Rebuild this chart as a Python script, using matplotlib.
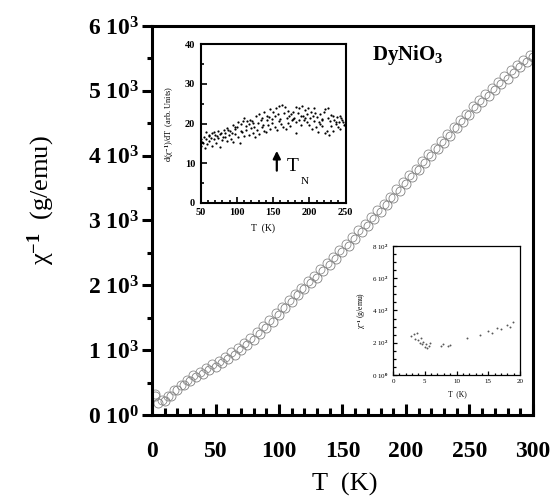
import numpy as np
import matplotlib
matplotlib.use("Agg")
import matplotlib.pyplot as plt
from matplotlib.ticker import MultipleLocator, FixedLocator

plt.rcParams['font.family'] = ['Liberation Serif', 'DejaVu Serif']
plt.rcParams['font.weight'] = 'bold'
plt.rcParams['mathtext.fontset'] = 'custom'
plt.rcParams['mathtext.rm'] = 'Liberation Serif:bold'
plt.rcParams['mathtext.bf'] = 'Liberation Serif:bold'
plt.rcParams['mathtext.sf'] = 'Liberation Serif'
plt.rcParams['mathtext.default'] = 'rm'

# inverse susceptibility, two sweeps
T_a = [2, 5, 10, 15, 20, 25, 30, 35, 40, 45, 50, 55, 60, 65, 70, 75, 80, 85, 90, 95,
       100, 105, 110, 115, 120, 125, 130, 135, 140, 145, 150, 155, 160, 165, 170, 175,
       180, 185, 190, 195, 200, 205, 210, 215, 220, 225, 230, 235, 240, 245, 250, 255,
       260, 265, 270, 275, 280, 285, 290, 295, 300]
chi_a = [290, 190, 215, 290, 380, 460, 520, 580, 640, 690, 740, 800, 860, 930, 1000,
         1080, 1160, 1250, 1340, 1440, 1550, 1650, 1750, 1850, 1940, 2030, 2120, 2220,
         2320, 2410, 2510, 2610, 2720, 2820, 2920, 3020, 3130, 3240, 3350, 3460, 3570,
         3670, 3780, 3880, 3990, 4100, 4200, 4310, 4420, 4520, 4630, 4730, 4830, 4920,
         5010, 5100, 5190, 5280, 5360, 5440, 5520]
T_b = [2.5, 7.5, 12.5, 17.5, 22.5, 27.5, 32.5, 37.5, 42.5, 47.5, 52.5, 57.5, 62.5,
       67.5, 72.5, 77.5, 82.5, 87.5, 92.5, 97.5, 102.5, 107.5, 112.5, 117.5, 122.5,
       127.5, 132.5, 137.5, 142.5, 147.5, 152.5, 157.5, 162.5, 167.5, 172.5, 177.5,
       182.5, 187.5, 192.5, 197.5, 202.5, 207.5, 212.5, 217.5, 222.5, 227.5, 232.5,
       237.5, 242.5, 247.5, 252.5, 257.5, 262.5, 267.5, 272.5, 277.5, 282.5, 287.5,
       292.5, 297.5]
chi_b = [330, 230, 300, 380, 460, 540, 610, 670, 730, 790, 840, 900, 970, 1040, 1110,
         1190, 1280, 1370, 1470, 1570, 1670, 1770, 1870, 1960, 2060, 2150, 2250, 2350,
         2440, 2540, 2640, 2740, 2850, 2950, 3050, 3160, 3260, 3370, 3480, 3590, 3700,
         3800, 3910, 4020, 4120, 4230, 4330, 4440, 4550, 4650, 4760, 4860, 4950, 5050,
         5140, 5230, 5320, 5400, 5480, 5560]

# derivative d(1/chi)/dT
dT_1 = [50, 54, 58, 62, 66, 70, 74, 78, 82, 86, 90, 94, 98, 102, 106, 110, 114, 118,
        122, 126, 130, 134, 138, 142, 146, 150, 154, 158, 162, 166, 170, 174, 178, 182,
        186, 190, 194, 198, 202, 206, 210, 214, 218, 222, 226, 230, 234, 238, 242, 246, 250]
dv_1 = [16.0, 16.5, 17.8, 16.9, 17.5, 17.2, 18.0, 17.6, 18.4, 18.9, 18.2, 19.5, 19.0,
        20.3, 19.8, 21.5, 20.6, 21.0, 20.2, 21.8, 22.4, 21.3, 22.9, 22.0, 23.6, 22.8,
        23.9, 24.3, 24.6, 24.1, 23.2, 22.5, 22.9, 24.2, 23.8, 24.4, 23.5, 24.0, 22.8,
        23.9, 21.6, 22.4, 20.8, 23.7, 24.0, 22.2, 20.9, 21.6, 21.8, 20.4, 22.0]
dT_2 = [50, 53, 56, 59, 62, 65, 68, 71, 74, 77, 80, 83, 86, 89, 92, 95, 98, 101, 104,
        107, 110, 113, 116, 119, 122, 125, 128, 131, 134, 137, 140, 143, 146, 149, 152,
        155, 158, 161, 164, 167, 170, 173, 176, 179, 182, 185, 188, 191, 194, 197, 200,
        203, 206, 209, 212, 215, 218, 221, 224, 227, 230, 233, 236, 239, 242, 245, 248, 250]
dv_2 = [14.2, 15.0, 13.8, 14.9, 15.6, 14.3, 16.0, 15.2, 16.3, 14.0, 15.9, 16.6, 15.5,
        17.0, 16.1, 15.3, 17.4, 16.5, 15.0, 17.8, 16.8, 18.4, 17.2, 18.8, 17.6, 16.6,
        18.3, 17.4, 19.2, 18.0, 17.8, 19.5, 18.6, 20.2, 19.0, 18.4, 20.6, 19.8, 19.2,
        18.7, 20.1, 19.4, 20.8, 21.5, 17.6, 21.0, 19.7, 22.0, 21.4, 20.3, 19.6, 18.6,
        20.7, 19.0, 17.8, 20.0, 19.3, 17.5, 18.2, 17.0, 19.4, 18.0, 20.3, 19.2, 18.6,
        20.8, 19.5, 18.2]
dT_3 = [52, 57, 61, 64, 69, 73, 76, 81, 84, 88, 93, 97, 100, 105, 108, 112, 117, 121,
        124, 129, 133, 136, 141, 144, 148, 153, 157, 160, 165, 169, 172, 177, 181, 184,
        189, 193, 196, 201, 205, 208, 213, 217, 220, 225, 229, 232, 237, 241, 244, 249]
dv_3 = [15.4, 16.2, 17.0, 16.4, 17.9, 16.8, 17.3, 16.7, 17.7, 18.3, 17.5, 18.6, 19.2,
        18.1, 20.6, 19.4, 19.9, 20.7, 19.1, 20.1, 20.9, 19.6, 20.8, 21.7, 21.1, 21.9,
        22.4, 21.2, 22.7, 21.5, 22.0, 21.2, 20.5, 22.6, 21.8, 20.9, 22.3, 21.3, 21.9,
        22.7, 20.4, 21.1, 22.9, 21.5, 20.6, 21.9, 19.8, 20.5, 21.3, 19.9]

# low temperature detail
T_low = [2.9, 3.3, 3.5, 3.8, 4.0, 4.2, 4.4, 4.6, 4.8, 5.0, 5.2, 5.4, 5.6, 5.8, 7.5,
         7.8, 8.7, 9.0, 11.6, 13.7, 15.0, 15.6, 16.3, 17.0, 17.9, 18.4, 18.9]
chi_low = [240, 255, 225, 260, 215, 200, 230, 190, 205, 175, 195, 168, 180, 200, 180,
           195, 178, 185, 227, 248, 275, 262, 290, 285, 310, 300, 330]

main_yticks = [0, 1000, 2000, 3000, 4000, 5000, 6000]
main_ylabels = ['0 10$^{0}$', '1 10$^{3}$', '2 10$^{3}$', '3 10$^{3}$',
                '4 10$^{3}$', '5 10$^{3}$', '6 10$^{3}$']
low_yticks = [0, 200, 400, 600, 800]
low_ylabels = ['0 10$^{0}$', '2 10$^{2}$', '4 10$^{2}$', '6 10$^{2}$', '8 10$^{2}$']

fig = plt.figure(figsize=(5.57, 4.96), dpi=100)

# main panel
ax = fig.add_axes([0.2729, 0.1633, 0.684, 0.7843])
ax.plot(T_a, chi_a, 'o', ms=6.5, mfc='none', mec='0.5', mew=0.6)
ax.plot(T_b, chi_b, 'o', ms=6.5, mfc='none', mec='0.55', mew=0.6)
ax.set_xlim(0, 300)
ax.set_ylim(0, 6000)
for s in ax.spines.values():
    s.set_linewidth(2.2)
ax.xaxis.set_major_locator(MultipleLocator(50))
ax.xaxis.set_minor_locator(MultipleLocator(10))
ax.yaxis.set_major_locator(FixedLocator(main_yticks))
ax.yaxis.set_minor_locator(MultipleLocator(500))
ax.set_yticklabels(main_ylabels)
ax.tick_params(axis='x', which='major', direction='in', length=8, width=2.2,
               pad=19, labelsize=17)
ax.tick_params(axis='x', which='minor', direction='in', length=5, width=2.2)
ax.tick_params(axis='y', which='major', direction='out', length=7, width=2.2,
               pad=2, labelsize=17)
ax.tick_params(axis='y', which='minor', direction='out', length=3.6, width=2.2)
ax.set_xlabel('T  (K)', fontsize=19)
ax.xaxis.set_label_coords(0.507, -0.15)
ax.set_ylabel('χ$^{-1}$  (g/emu)', fontsize=19)
ax.yaxis.set_label_coords(-0.25, 0.553)
ax.text(0.577, 0.925, 'DyNiO$_{3}$', transform=ax.transAxes, fontsize=15,
        ha='left', va='center')

# derivative inset
ax1 = fig.add_axes([0.3603, 0.5913, 0.2603, 0.3194])
for tt, vv in [(dT_1, dv_1), (dT_2, dv_2), (dT_3, dv_3)]:
    ax1.plot(tt, vv, 'o', ms=1.6, color='k', mew=0)
ax1.set_xlim(50, 250)
ax1.set_ylim(0, 40)
for s in ax1.spines.values():
    s.set_linewidth(1.5)
ax1.xaxis.set_major_locator(MultipleLocator(50))
ax1.xaxis.set_minor_locator(MultipleLocator(10))
ax1.yaxis.set_major_locator(MultipleLocator(10))
ax1.yaxis.set_minor_locator(MultipleLocator(5))
ax1.tick_params(which='major', direction='in', length=4, width=1.2, labelsize=7.5, pad=4)
ax1.tick_params(which='minor', direction='in', length=2.5, width=1.2)
ax1.set_xlabel('T  (K)', fontsize=7)
ax1.xaxis.set_label_coords(0.43, -0.13)
ax1.set_ylabel('d(χ$^{-1}$)/dT  (arb. Units)', fontsize=6)
ax1.yaxis.set_label_coords(-0.17, 0.5)
ax1.annotate('', xy=(155, 13.8), xytext=(155, 7.4),
             arrowprops=dict(arrowstyle='-|>', lw=1.6, color='k', mutation_scale=11))
ax1.text(168, 9.2, 'T', fontsize=14, fontweight='normal', ha='left', va='center')
ax1.text(188, 5.3, 'N', fontsize=8, fontweight='normal', ha='left', va='center')

# low temperature inset
ax2 = fig.add_axes([0.7056, 0.244, 0.228, 0.260])
ax2.plot(T_low, chi_low, 'o', ms=1.4, color='0.35', mew=0)
ax2.set_xlim(0, 20)
ax2.set_ylim(0, 800)
for s in ax2.spines.values():
    s.set_linewidth(0.9)
ax2.xaxis.set_major_locator(MultipleLocator(5))
ax2.xaxis.set_minor_locator(MultipleLocator(1))
ax2.yaxis.set_major_locator(FixedLocator(low_yticks))
ax2.yaxis.set_minor_locator(MultipleLocator(50))
ax2.set_yticklabels(low_ylabels)
ax2.tick_params(which='major', direction='in', length=3, width=0.9, labelsize=5, pad=3)
ax2.tick_params(which='minor', direction='in', length=1.8, width=0.9)
for lab in ax2.get_xticklabels() + ax2.get_yticklabels():
    lab.set_fontweight('normal')
ax2.set_xlabel('T  (K)', fontsize=5.5)
ax2.xaxis.set_label_coords(0.51, -0.12)
ax2.set_ylabel('χ$^{-1}$ (g/emu)', fontsize=5.5)
ax2.yaxis.set_label_coords(-0.2, 0.5)

fig.savefig('out.png', dpi=100)
